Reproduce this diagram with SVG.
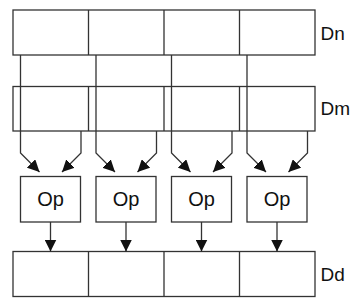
<svg xmlns="http://www.w3.org/2000/svg" width="363" height="307" viewBox="0 0 363 307">
<style>
.box{fill:#fff;stroke:#333;stroke-width:1.3}
.ln{fill:none;stroke:#333;stroke-width:1.3}
.lbl{font-family:"Liberation Sans",Arial,sans-serif;font-size:19px;fill:#111}
.op{font-family:"Liberation Sans",Arial,sans-serif;font-size:20px;fill:#111;text-anchor:middle}
</style>
<defs>
<marker id="ah" viewBox="0 0 12 12" refX="12" refY="6" markerWidth="12" markerHeight="12" markerUnits="userSpaceOnUse" orient="auto">
<path d="M0,0 L12,6 L0,12 z" fill="#111"/>
</marker>
</defs>
<rect width="363" height="307" fill="#fff"/>
<g id="Dn">
<rect class="box" x="13" y="10" width="302" height="45"/>
<path class="ln" d="M88.5,10V55M164,10V55M239.5,10V55"/>
<text class="lbl" x="320.5" y="39.5">Dn</text>
</g>
<g id="Dm">
<rect class="box" x="13" y="86.5" width="302" height="44.5"/>
<path class="ln" d="M88.5,86.5V131M164,86.5V131M239.5,86.5V131"/>
<text class="lbl" x="320.5" y="114.5">Dm</text>
</g>
<g id="Dd">
<rect class="box" x="13" y="251.5" width="302" height="45"/>
<path class="ln" d="M88.5,251.5V296.5M164,251.5V296.5M239.5,251.5V296.5"/>
<text class="lbl" x="320.5" y="281">Dd</text>
</g>
<g id="op1"><rect class="box" x="20.5" y="176.5" width="60" height="45.5"/><text class="op" x="50.5" y="206">Op</text></g>
<g id="op2"><rect class="box" x="96" y="176.5" width="60" height="45.5"/><text class="op" x="126" y="206">Op</text></g>
<g id="op3"><rect class="box" x="171.5" y="176.5" width="60" height="45.5"/><text class="op" x="201.5" y="206">Op</text></g>
<g id="op4"><rect class="box" x="247" y="176.5" width="60" height="45.5"/><text class="op" x="277" y="206">Op</text></g>
<g id="connectors">
<path class="ln" marker-end="url(#ah)" d="M20.5,55V153L39.5,172"/>
<path class="ln" marker-end="url(#ah)" d="M81,131V153L62,172"/>
<path class="ln" marker-end="url(#ah)" d="M96,55V153L115,172"/>
<path class="ln" marker-end="url(#ah)" d="M156.5,131V153L137.5,172"/>
<path class="ln" marker-end="url(#ah)" d="M171.5,55V153L190.5,172"/>
<path class="ln" marker-end="url(#ah)" d="M232,131V153L213,172"/>
<path class="ln" marker-end="url(#ah)" d="M247,55V153L266,172"/>
<path class="ln" marker-end="url(#ah)" d="M307.5,131V153L288.5,172"/>
<path class="ln" marker-end="url(#ah)" d="M50.5,222V251.5"/>
<path class="ln" marker-end="url(#ah)" d="M126,222V251.5"/>
<path class="ln" marker-end="url(#ah)" d="M201.5,222V251.5"/>
<path class="ln" marker-end="url(#ah)" d="M277,222V251.5"/>
</g>
</svg>
